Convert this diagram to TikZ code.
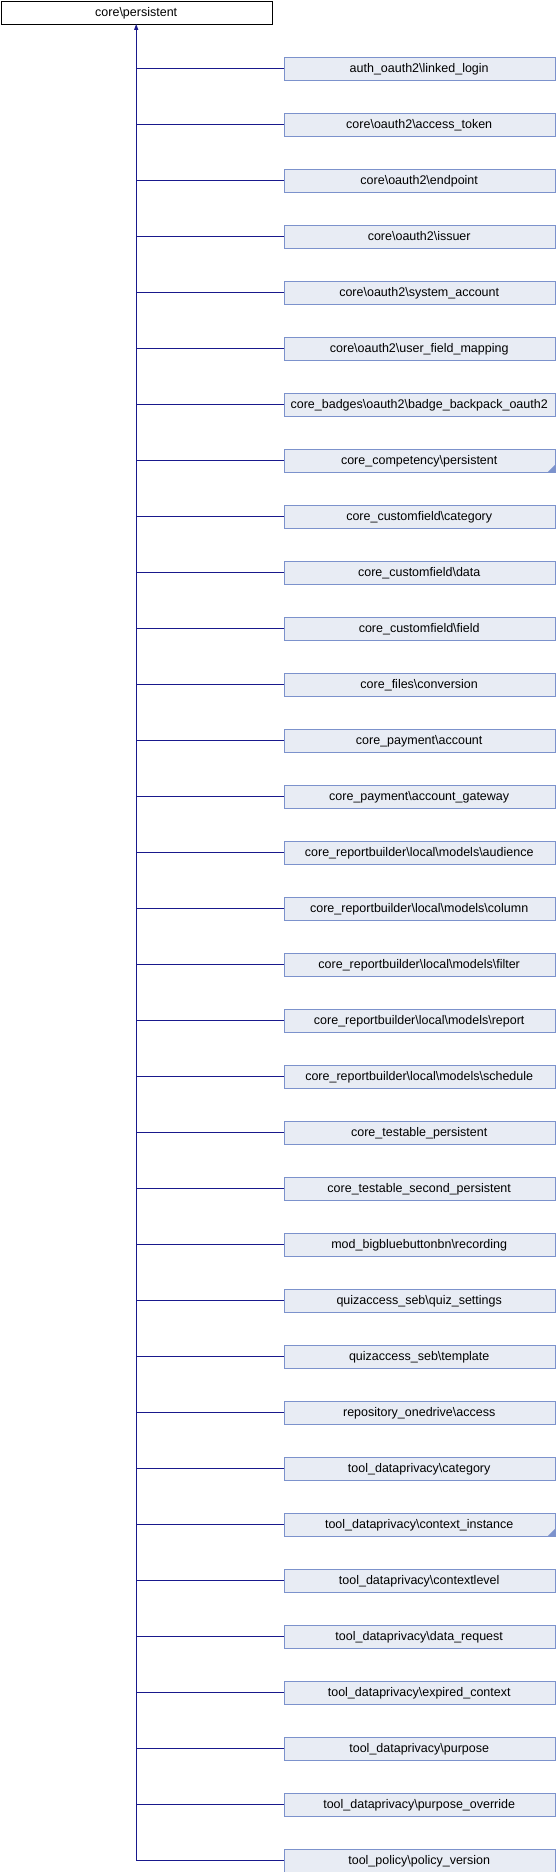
\documentclass[tikz,border=0pt]{standalone}
\usepackage{fontspec}
\setmainfont{Liberation Sans}
\usetikzlibrary{arrows.meta}
\definecolor{boxfill}{RGB}{232,236,244}
\definecolor{boxline}{RGB}{124,146,204}
\definecolor{edgecol}{RGB}{25,25,140}
\newcommand{\bsl}{\textbackslash}
\begin{document}
\begin{tikzpicture}[x=1pt,y=-1pt,
    box/.style={draw,inner sep=0pt,minimum width=271pt,minimum height=23pt,
        text height=9pt,text depth=1pt,font=\fontsize{12.5}{15}\selectfont},
    cls/.style={box,draw=boxline,fill=boxfill},
    edge/.style={edgecol,line width=1pt}]
    \useasboundingbox (0,0) rectangle (556,1872);
    \node[box,fill=white,anchor=north west] (base) at (0.5,0.5) {core\bsl persistent};
    % one box per derived class, 56pt apart
    \foreach \name [count=\i from 0] in {auth\_oauth2\bsl linked\_login,
        core\bsl oauth2\bsl access\_token, core\bsl oauth2\bsl endpoint,
        core\bsl oauth2\bsl issuer, core\bsl oauth2\bsl system\_account,
        core\bsl oauth2\bsl user\_field\_mapping,
        core\_badges\bsl oauth2\bsl badge\_backpack\_oauth2,
        core\_competency\bsl persistent, core\_customfield\bsl category,
        core\_customfield\bsl data, core\_customfield\bsl field,
        core\_files\bsl conversion, core\_payment\bsl account,
        core\_payment\bsl account\_gateway,
        core\_reportbuilder\bsl local\bsl models\bsl audience,
        core\_reportbuilder\bsl local\bsl models\bsl column,
        core\_reportbuilder\bsl local\bsl models\bsl filter,
        core\_reportbuilder\bsl local\bsl models\bsl report,
        core\_reportbuilder\bsl local\bsl models\bsl schedule,
        core\_testable\_persistent, core\_testable\_second\_persistent,
        mod\_bigbluebuttonbn\bsl recording, quizaccess\_seb\bsl quiz\_settings,
        quizaccess\_seb\bsl template, repository\_onedrive\bsl access,
        tool\_dataprivacy\bsl category, tool\_dataprivacy\bsl context\_instance,
        tool\_dataprivacy\bsl contextlevel, tool\_dataprivacy\bsl data\_request,
        tool\_dataprivacy\bsl expired\_context, tool\_dataprivacy\bsl purpose,
        tool\_dataprivacy\bsl purpose\_override, tool\_policy\bsl policy\_version}
    {
        \node[cls,anchor=north west] (c\i) at (283.5,56.5+56*\i) {\name};
        \draw[edge] (base.south |- c\i.west) -- (c\i.west);
    }
    \draw[edge,-{Triangle[length=6pt,width=4pt]}] (base.south |- c32.west) -- (base.south);
    % classes with more derived classes not shown
    \foreach \j in {7,26}
        \fill[boxline] (c\j.south east) -- ++(-7,0) -- ++(7,-7) -- cycle;
\end{tikzpicture}
\end{document}
